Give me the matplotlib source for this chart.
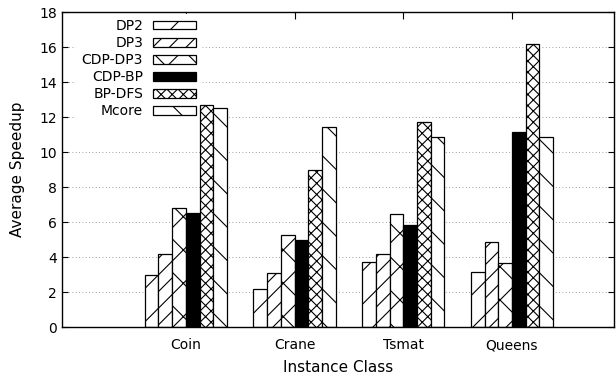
import numpy as np
import matplotlib.pyplot as plt

categories = ['Coin', 'Crane', 'Tsmat', 'Queens']
series = ['DP2', 'DP3', 'CDP-DP3', 'CDP-BP', 'BP-DFS', 'Mcore']
dp2 = [2.95, 2.15, 3.7, 3.16]
dp3 = [4.2, 3.1, 4.17, 4.84]
cdp_dp3 = [6.8, 5.25, 6.44, 3.64]
cdp_bp = [6.5, 4.97, 5.83, 11.14]
bp_dfs = [12.7, 9.0, 11.7, 16.15]
mcore = [12.5, 11.45, 10.86, 10.87]

values = [dp2, dp3, cdp_dp3, cdp_bp, bp_dfs, mcore]
hatches = ['/', '//', 'x', '', 'xxx', '\\']
faces = ['white', 'white', 'white', 'black', 'white', 'white']

plt.rcParams['hatch.linewidth'] = 0.8
fig = plt.figure(figsize=(6.16, 3.81), dpi=100)
ax = fig.add_axes([0.1006, 0.1417, 0.8964, 0.8268])

x = np.arange(len(categories))
w = 0.126
for i in range(len(series)):
    ax.bar(x + (i - 2.5) * w, values[i], w, color=faces[i], edgecolor='black',
           hatch=hatches[i], linewidth=0.9, label=series[i], zorder=2)

ax.set_xlim(-1.14, 3.94)
ax.set_ylim(0, 18)
ax.set_yticks(range(0, 19, 2))
ax.set_xticks(x)
ax.set_xticklabels(categories, fontsize=10)
ax.tick_params(axis='y', labelsize=10, direction='in', right=True, length=4)
ax.tick_params(axis='x', direction='in', top=True, length=5, pad=8)
ax.yaxis.grid(True, linestyle=(0, (1, 3)), color='gray', linewidth=0.6, zorder=0)
ax.set_axisbelow(True)
for s in ax.spines.values():
    s.set_linewidth(1.0)

ax.set_ylabel('Average Speedup', fontsize=11, labelpad=10)
ax.set_xlabel('Instance Class', fontsize=11, labelpad=6)

# white box hides the grid behind the key, bars stay on top of it
leg = ax.legend(loc='upper left', bbox_to_anchor=(0.018, 1.008), markerfirst=False,
                fontsize=10, handlelength=3.1, handleheight=0.55, labelspacing=0.22,
                handletextpad=0.7, borderaxespad=0.3, frameon=True, fancybox=False,
                edgecolor='white', facecolor='white', framealpha=1.0)
for t in leg.get_texts():
    t.set_ha('right')
leg.set_zorder(1.5)

fig.savefig('out.png', dpi=100)
